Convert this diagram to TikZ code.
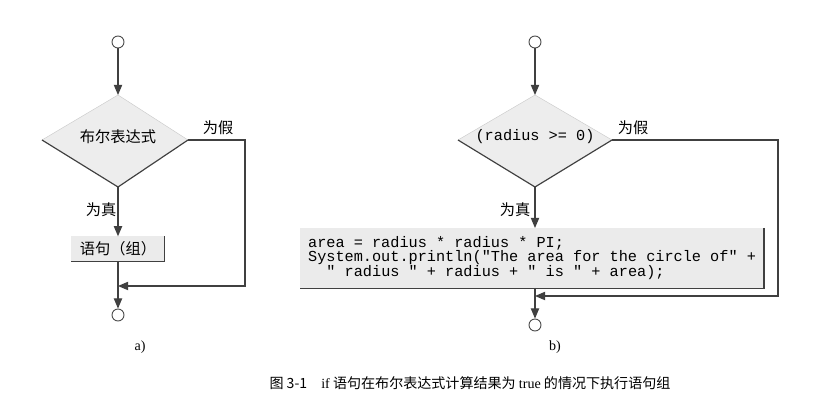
\documentclass[tikz,border=0pt]{standalone}
\usepackage{fontspec}
\setmainfont{Liberation Serif}
\setmonofont{Liberation Mono}
\newfontfamily\cjk{Noto Sans CJK SC}
\usetikzlibrary{arrows}

\begin{document}
\begin{tikzpicture}[x=0.03cm,y=-0.03cm,>=triangle 45,
  flow/.style={draw=black!75,line width=1pt},
  term/.style={draw=black!70,thick,circle,fill=white,inner sep=0pt,minimum size=3.6mm},
  lbl/.style={font=\cjk\fontsize{13}{13}\selectfont}]
\useasboundingbox (0,0) rectangle (835,404);
% a)
\node[term] (sa) at (118,42) {};
\coordinate (ta) at (118,95);
\coordinate (la) at (42,140);
\coordinate (ra) at (188,140);
\coordinate (ba) at (118,187);
\fill[black!7] (ta) -- (ra) -- (ba) -- (la) -- cycle;
\draw[black!20] (la) -- (ta) -- (ra);
\draw[flow] (la) -- (ba) -- (ra);
\node[lbl] (ca) at (118,137) {布尔表达式};
\node[lbl] (fa) at (218,128) {为假};
\node[lbl] (va) at (101,210) {为真};
\node[lbl,fill=black!8,minimum width=2.8cm,minimum height=0.75cm] (sta) at (118,249) {语句（组）};
\draw[flow] (sta.north east) -- (sta.south east) -- (sta.south west);
\coordinate (ja) at (118,286);
\node[term] (ea) at (118,315) {};
\draw[flow,->] (sa) -- (ta);
\draw[flow,->] (ba) -- (sta.north);
\draw[flow,->] (ra) -- (245,140) -- (245,286) -- (ja);
\draw[flow,->] (sta.south) -- (ea);
\node[font=\fontsize{12}{12}\selectfont] (na) at (140,347) {a)};
% b)
\node[term] (sb) at (535,42) {};
\coordinate (tb) at (535,95);
\coordinate (lb) at (458,140);
\coordinate (rb) at (612,140);
\coordinate (bb) at (535,187);
\fill[black!7] (tb) -- (rb) -- (bb) -- (lb) -- cycle;
\draw[black!20] (lb) -- (tb) -- (rb);
\draw[flow] (lb) -- (bb) -- (rb);
\node[font=\ttfamily\fontsize{13}{13}\selectfont] (cb) at (535,137) {(radius >= 0)};
\node[lbl] (fb) at (633,128) {为假};
\node[lbl] (vb) at (515,210) {为真};
\node[fill=black!8,minimum width=13.9cm,minimum height=1.8cm,inner sep=0pt] (stb) at (532,258) {};
\node[font=\ttfamily\fontsize{13}{12.5}\selectfont,align=left,anchor=west] (code) at (304,258)
  {area = radius * radius * PI;\\System.out.println("The area for the circle of" +\\\ \ " radius " + radius + " is " + area);};
\draw[flow] (stb.north east) -- (stb.south east) -- (stb.south west);
\coordinate (jb) at (535,296);
\node[term] (eb) at (535,325) {};
\draw[flow,->] (sb) -- (tb);
\draw[flow,->] (bb) -- (535,228);
\draw[flow,->] (rb) -- (778,140) -- (778,296) -- (jb);
\draw[flow,->] (535,288) -- (eb);
\node[font=\fontsize{12}{12}\selectfont] (nb) at (555,347) {b)};
% caption
\node[font=\cjk\fontsize{12}{12}\selectfont] (cap) at (470,383) {图 3-1\quad {\rmfamily if} 语句在布尔表达式计算结果为 {\rmfamily true} 的情况下执行语句组};
\end{tikzpicture}
\end{document}
